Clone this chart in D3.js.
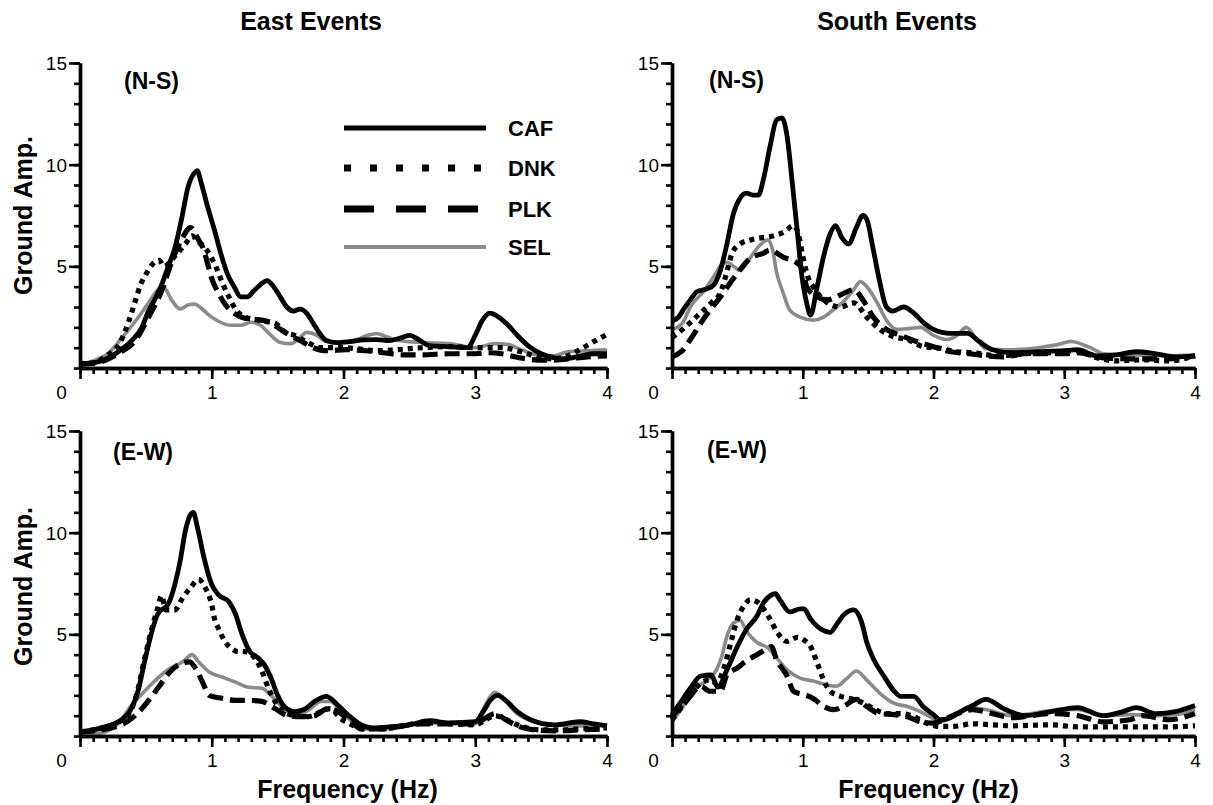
<!DOCTYPE html>
<html>
<head>
<meta charset="utf-8">
<script src="https://cdn.jsdelivr.net/npm/d3@7"></script>
<style>
  body { margin: 0; background: #fff; }
  svg text { font-family: "Liberation Sans", Arial, Helvetica, sans-serif; fill: #000; }
</style>
</head>
<body>
<svg id="fig" width="1213" height="805"></svg>
<script>
// ---- data: ground amplification spectra, [frequency (Hz), amplification] ----
const stations = ["CAF", "DNK", "PLK", "SEL"];
const groupTitles = ["East Events", "South Events"];
const componentLabels = ["(N-S)", "(E-W)"];
const xTickValues = [0, 1, 2, 3, 4];
const yTickValues = [0, 5, 10, 15];

// East events, N-S component
const eastNS_CAF = [[0,0.2],[0.1,0.25],[0.2,0.45],[0.3,0.85],[0.4,1.4],[0.47,2.0],[0.52,2.8],[0.57,3.4],[0.62,4.1],[0.67,5.0],[0.72,5.9],[0.77,7.3],[0.82,8.9],[0.87,9.6],[0.89,9.7],[0.92,9.1],[0.97,7.9],[1.02,6.8],[1.07,5.6],[1.12,4.6],[1.17,4.0],[1.22,3.5],[1.27,3.5],[1.32,3.8],[1.37,4.1],[1.42,4.3],[1.47,4.0],[1.52,3.5],[1.57,3.0],[1.62,2.8],[1.67,2.9],[1.72,2.7],[1.77,2.2],[1.82,1.7],[1.87,1.35],[1.95,1.25],[2.05,1.3],[2.15,1.38],[2.25,1.4],[2.35,1.35],[2.42,1.45],[2.5,1.6],[2.57,1.4],[2.65,1.1],[2.8,1.05],[2.94,1.0],[3.0,1.6],[3.05,2.3],[3.11,2.7],[3.18,2.5],[3.25,2.1],[3.32,1.6],[3.4,1.1],[3.5,0.7],[3.6,0.5],[3.68,0.45],[3.8,0.6],[3.9,0.7],[4.0,0.7]];
const eastNS_DNK = [[0,0.2],[0.1,0.25],[0.2,0.6],[0.3,1.2],[0.37,2.3],[0.42,3.3],[0.46,4.1],[0.5,4.6],[0.55,5.1],[0.6,5.3],[0.64,5.0],[0.68,5.2],[0.72,5.5],[0.8,6.1],[0.85,6.5],[0.9,6.2],[0.95,5.9],[1.0,5.4],[1.03,5.0],[1.08,4.2],[1.13,3.5],[1.18,2.9],[1.25,2.5],[1.32,2.4],[1.4,2.3],[1.48,2.2],[1.56,1.75],[1.63,1.6],[1.73,1.25],[1.83,1.0],[1.98,1.0],[2.1,0.95],[2.24,0.85],[2.4,0.9],[2.6,1.0],[2.8,1.05],[3.0,1.0],[3.2,1.0],[3.35,0.8],[3.5,0.5],[3.6,0.45],[3.7,0.6],[3.82,1.0],[3.9,1.3],[4.0,1.65]];
const eastNS_PLK = [[0,0.2],[0.1,0.22],[0.2,0.4],[0.3,0.75],[0.42,1.35],[0.52,2.5],[0.62,3.8],[0.7,5.3],[0.77,6.3],[0.84,6.9],[0.9,6.3],[0.94,5.8],[0.97,5.1],[1.0,4.4],[1.05,3.7],[1.1,3.15],[1.18,2.65],[1.25,2.45],[1.32,2.4],[1.42,2.3],[1.5,2.0],[1.57,1.7],[1.67,1.35],[1.77,1.0],[1.87,0.85],[2.02,0.9],[2.17,0.85],[2.3,0.75],[2.45,0.65],[2.6,0.65],[2.8,0.7],[3.0,0.7],[3.1,0.75],[3.2,0.7],[3.3,0.55],[3.45,0.4],[3.55,0.38],[3.7,0.45],[3.85,0.55],[4.0,0.6]];
const eastNS_SEL = [[0,0.2],[0.1,0.35],[0.21,0.7],[0.32,1.5],[0.42,2.3],[0.52,3.2],[0.6,3.9],[0.63,4.0],[0.7,3.3],[0.76,2.9],[0.82,3.1],[0.87,3.15],[0.91,3.0],[0.97,2.65],[1.05,2.3],[1.15,2.1],[1.22,2.1],[1.3,2.25],[1.37,2.1],[1.45,1.6],[1.52,1.26],[1.6,1.2],[1.67,1.5],[1.72,1.75],[1.8,1.6],[1.87,1.3],[1.98,1.25],[2.1,1.4],[2.18,1.6],[2.25,1.7],[2.32,1.55],[2.42,1.35],[2.6,1.25],[2.8,1.2],[3.0,1.0],[3.15,1.2],[3.25,1.15],[3.35,0.9],[3.5,0.6],[3.6,0.6],[3.7,0.8],[3.85,0.85],[4.0,0.9]];

// South events, N-S component
const southNS_CAF = [[0,2.3],[0.05,2.5],[0.09,2.9],[0.14,3.35],[0.19,3.75],[0.27,3.9],[0.32,4.1],[0.37,4.8],[0.42,6.1],[0.47,7.6],[0.52,8.35],[0.57,8.6],[0.62,8.5],[0.66,8.5],[0.7,9.3],[0.75,10.9],[0.8,12.2],[0.84,12.3],[0.88,11.4],[0.92,9.1],[0.96,6.6],[0.99,4.7],[1.03,3.2],[1.06,2.6],[1.11,4.0],[1.16,5.5],[1.21,6.6],[1.25,7.0],[1.3,6.4],[1.35,6.1],[1.41,6.9],[1.46,7.5],[1.49,7.3],[1.54,5.8],[1.59,4.2],[1.64,3.0],[1.69,2.8],[1.77,3.0],[1.85,2.7],[1.93,2.2],[2.0,1.9],[2.13,1.7],[2.26,1.7],[2.35,1.3],[2.45,0.9],[2.6,0.75],[2.8,0.8],[3.0,0.85],[3.1,0.9],[3.25,0.6],[3.4,0.65],[3.55,0.8],[3.7,0.7],[3.85,0.55],[4.0,0.6]];
const southNS_DNK = [[0,1.5],[0.1,2.0],[0.2,2.6],[0.3,3.2],[0.37,3.7],[0.41,4.5],[0.46,5.65],[0.52,6.1],[0.6,6.3],[0.68,6.4],[0.78,6.5],[0.86,6.7],[0.93,7.0],[0.97,6.5],[1.0,5.5],[1.05,4.3],[1.08,4.0],[1.16,3.35],[1.29,3.0],[1.39,3.2],[1.49,2.5],[1.59,1.9],[1.69,1.55],[1.8,1.4],[1.92,1.05],[2.05,0.97],[2.18,0.8],[2.3,0.75],[2.5,0.6],[2.7,0.7],[2.9,0.75],[3.1,0.85],[3.25,0.5],[3.4,0.35],[3.6,0.4],[3.8,0.35],[4.0,0.6]];
const southNS_PLK = [[0,0.55],[0.07,0.8],[0.14,1.4],[0.24,2.4],[0.37,3.5],[0.5,4.66],[0.6,5.4],[0.7,5.65],[0.75,5.8],[0.85,5.45],[0.96,5.15],[1.0,4.8],[1.03,4.0],[1.11,3.5],[1.19,3.35],[1.29,3.6],[1.39,3.85],[1.46,3.35],[1.54,2.5],[1.64,1.9],[1.75,1.6],[1.87,1.3],[2.0,1.05],[2.13,0.8],[2.26,0.72],[2.4,0.6],[2.55,0.55],[2.7,0.7],[3.0,0.7],[3.1,0.75],[3.3,0.5],[3.5,0.45],[3.8,0.45],[4.0,0.6]];
const southNS_SEL = [[0,1.9],[0.08,2.2],[0.14,3.0],[0.24,3.75],[0.32,4.5],[0.38,5.1],[0.42,5.2],[0.47,5.0],[0.52,4.8],[0.57,5.15],[0.64,5.8],[0.7,6.2],[0.73,6.3],[0.77,5.8],[0.8,4.7],[0.85,3.7],[0.9,2.85],[0.98,2.5],[1.08,2.35],[1.16,2.5],[1.24,2.9],[1.31,3.25],[1.39,3.85],[1.44,4.25],[1.49,4.0],[1.57,3.2],[1.64,2.35],[1.72,1.9],[1.82,1.95],[1.9,2.0],[2.0,1.6],[2.1,1.4],[2.18,1.6],[2.25,2.0],[2.32,1.5],[2.4,0.95],[2.57,0.9],[2.8,1.0],[2.95,1.15],[3.05,1.3],[3.2,1.0],[3.3,0.7],[3.5,0.65],[3.8,0.6],[4.0,0.65]];

// East events, E-W component
const eastEW_CAF = [[0,0.2],[0.1,0.3],[0.19,0.45],[0.29,0.7],[0.39,1.35],[0.44,2.2],[0.49,3.65],[0.54,5.0],[0.59,6.0],[0.67,6.5],[0.72,7.45],[0.76,8.6],[0.8,10.1],[0.84,10.9],[0.86,11.0],[0.89,10.3],[0.94,8.8],[1.0,7.45],[1.05,6.95],[1.13,6.6],[1.18,6.0],[1.23,5.0],[1.29,4.15],[1.34,3.9],[1.4,3.5],[1.45,2.85],[1.5,2.0],[1.55,1.45],[1.63,1.2],[1.7,1.3],[1.78,1.7],[1.87,1.95],[1.96,1.5],[2.04,1.0],[2.14,0.53],[2.22,0.4],[2.35,0.45],[2.5,0.55],[2.65,0.75],[2.8,0.65],[3.0,0.7],[3.06,1.2],[3.12,1.8],[3.17,2.0],[3.24,1.7],[3.32,1.2],[3.42,0.8],[3.6,0.55],[3.79,0.7],[3.9,0.6],[4.0,0.5]];
const eastEW_DNK = [[0,0.2],[0.1,0.3],[0.2,0.45],[0.3,0.7],[0.39,1.3],[0.44,2.3],[0.49,3.8],[0.54,5.15],[0.59,6.3],[0.62,6.9],[0.65,6.2],[0.72,6.2],[0.78,6.8],[0.84,7.3],[0.9,7.7],[0.95,7.3],[1.0,6.45],[1.02,5.8],[1.05,5.3],[1.1,4.65],[1.15,4.3],[1.2,4.15],[1.25,4.15],[1.33,3.8],[1.38,3.2],[1.43,2.35],[1.48,1.7],[1.53,1.27],[1.63,1.0],[1.73,0.95],[1.83,1.2],[1.9,1.35],[1.98,0.85],[2.05,0.6],[2.14,0.35],[2.3,0.35],[2.45,0.5],[2.6,0.65],[2.8,0.6],[3.0,0.55],[3.08,0.8],[3.15,1.0],[3.22,0.85],[3.3,0.6],[3.5,0.3],[3.65,0.3],[3.8,0.35],[4.0,0.4]];
const eastEW_PLK = [[0,0.2],[0.1,0.25],[0.2,0.35],[0.29,0.5],[0.39,0.85],[0.49,1.5],[0.59,2.35],[0.69,3.2],[0.78,3.6],[0.83,3.65],[0.88,3.3],[0.93,2.65],[0.98,2.0],[1.08,1.85],[1.18,1.75],[1.28,1.75],[1.38,1.7],[1.48,1.35],[1.58,1.0],[1.68,0.95],[1.78,1.0],[1.88,1.35],[1.96,1.2],[2.04,0.8],[2.14,0.35],[2.3,0.35],[2.45,0.5],[2.6,0.6],[2.8,0.6],[3.0,0.6],[3.08,0.9],[3.15,1.1],[3.22,0.85],[3.3,0.55],[3.45,0.3],[3.6,0.25],[3.8,0.3],[4.0,0.35]];
const eastEW_SEL = [[0,0.05],[0.1,0.1],[0.19,0.2],[0.29,0.6],[0.39,1.5],[0.49,2.2],[0.59,2.85],[0.69,3.35],[0.78,3.65],[0.85,4.0],[0.9,3.65],[0.98,3.15],[1.08,2.9],[1.18,2.65],[1.28,2.4],[1.38,2.35],[1.45,2.0],[1.53,1.45],[1.63,1.0],[1.73,1.25],[1.83,1.7],[1.9,1.7],[1.98,1.25],[2.05,0.8],[2.15,0.35],[2.3,0.4],[2.45,0.5],[2.6,0.65],[2.8,0.6],[3.0,0.6],[3.06,1.3],[3.11,1.9],[3.15,2.15],[3.22,1.8],[3.3,1.2],[3.4,0.8],[3.5,0.6],[3.8,0.5],[4.0,0.55]];

// South events, E-W component
const southEW_CAF = [[0,1.05],[0.06,1.6],[0.14,2.35],[0.22,2.95],[0.3,3.0],[0.35,2.4],[0.42,3.25],[0.5,4.4],[0.57,5.25],[0.65,5.9],[0.7,6.55],[0.75,6.9],[0.79,7.0],[0.83,6.65],[0.9,6.1],[0.98,6.25],[1.01,6.25],[1.06,5.75],[1.14,5.25],[1.21,5.1],[1.26,5.5],[1.32,6.0],[1.39,6.2],[1.45,5.6],[1.49,4.6],[1.54,3.8],[1.62,2.95],[1.7,2.2],[1.75,1.95],[1.85,1.95],[1.92,1.45],[2.0,1.05],[2.05,0.8],[2.13,0.9],[2.21,1.2],[2.3,1.5],[2.4,1.8],[2.55,1.3],[2.7,1.0],[2.9,1.2],[3.1,1.4],[3.3,1.0],[3.45,1.2],[3.55,1.4],[3.7,1.1],[3.85,1.2],[4.0,1.5]];
const southEW_DNK = [[0,0.8],[0.12,1.8],[0.22,2.6],[0.29,2.75],[0.34,2.6],[0.4,3.4],[0.45,4.6],[0.5,5.75],[0.55,6.4],[0.6,6.7],[0.65,6.6],[0.7,6.25],[0.75,5.75],[0.8,5.15],[0.88,4.65],[0.96,4.85],[1.0,4.75],[1.06,4.4],[1.11,3.6],[1.16,2.75],[1.21,2.2],[1.29,1.95],[1.39,1.8],[1.47,1.6],[1.54,1.35],[1.65,1.1],[1.75,1.1],[1.85,0.95],[1.95,0.63],[2.05,0.47],[2.15,0.47],[2.3,0.6],[2.45,0.55],[2.6,0.5],[2.9,0.55],[3.1,0.45],[3.3,0.45],[3.6,0.45],[3.8,0.45],[4.0,0.5]];
const southEW_PLK = [[0,0.95],[0.12,1.8],[0.22,2.45],[0.29,2.2],[0.37,2.2],[0.42,3.0],[0.5,3.35],[0.57,3.7],[0.65,4.0],[0.73,4.3],[0.76,4.4],[0.8,3.75],[0.88,2.95],[0.93,2.2],[1.0,2.05],[1.08,1.85],[1.16,1.45],[1.24,1.3],[1.31,1.45],[1.41,1.8],[1.49,1.45],[1.59,1.1],[1.7,1.05],[1.8,0.95],[1.9,0.7],[2.0,0.63],[2.08,0.8],[2.18,1.1],[2.3,1.3],[2.45,1.1],[2.6,0.9],[2.9,1.1],[3.1,1.0],[3.3,0.7],[3.5,0.8],[3.6,1.0],[3.8,0.8],[4.0,1.1]];
const southEW_SEL = [[0,0.7],[0.1,1.6],[0.17,2.3],[0.27,2.75],[0.34,3.25],[0.38,3.9],[0.42,4.9],[0.47,5.55],[0.52,5.7],[0.57,5.15],[0.65,4.6],[0.73,4.35],[0.8,3.85],[0.88,3.25],[0.98,2.85],[1.08,2.7],[1.19,2.5],[1.26,2.45],[1.34,2.85],[1.41,3.2],[1.49,2.75],[1.59,2.1],[1.7,1.6],[1.8,1.45],[1.9,1.2],[2.0,0.85],[2.05,0.7],[2.15,0.95],[2.26,1.4],[2.4,1.3],[2.6,1.0],[2.9,1.25],[3.1,1.3],[3.3,1.0],[3.5,1.05],[3.7,1.0],[3.9,1.1],[4.0,1.3]];

// ---- layout and styling ----
const svg = d3.select("#fig");
const FONT = '"Liberation Sans", Arial, Helvetica, sans-serif';

const lineStyle = {
  CAF: { stroke: "#000", width: 4.8, dash: null },
  DNK: { stroke: "#000", width: 5.2, dash: "5,5" },
  PLK: { stroke: "#000", width: 5.2, dash: "15,7" },
  SEL: { stroke: "#8a8a8a", width: 3.6, dash: null }
};
const legendDash = { CAF: null, DNK: "7,19", PLK: "30,22", SEL: null };
const legendWidth = { CAF: 5, DNK: 7, PLK: 7, SEL: 4 };

const panels = [
  { series: [eastNS_CAF, eastNS_DNK, eastNS_PLK, eastNS_SEL], left: 80, right: 607, bottom: 368, top: 63,
    label: componentLabels[0], labelX: 124, labelY: 89, yTitle: true, legend: true },
  { series: [southNS_CAF, southNS_DNK, southNS_PLK, southNS_SEL], left: 672, right: 1195, bottom: 368, top: 63,
    label: componentLabels[0], labelX: 709, labelY: 88, yTitle: false, legend: false },
  { series: [eastEW_CAF, eastEW_DNK, eastEW_PLK, eastEW_SEL], left: 80, right: 607, bottom: 736, top: 431,
    label: componentLabels[1], labelX: 113, labelY: 460, yTitle: true, legend: false, xTitle: true },
  { series: [southEW_CAF, southEW_DNK, southEW_PLK, southEW_SEL], left: 672, right: 1195, bottom: 736, top: 431,
    label: componentLabels[1], labelX: 707, labelY: 458, yTitle: false, legend: false, xTitle: true }
];

// column titles
svg.append("text").attr("x", 311).attr("y", 30).attr("text-anchor", "middle")
  .attr("font-size", 25).attr("font-weight", "bold").attr("font-family", FONT).text(groupTitles[0]);
svg.append("text").attr("x", 897).attr("y", 30).attr("text-anchor", "middle")
  .attr("font-size", 25).attr("font-weight", "bold").attr("font-family", FONT).text(groupTitles[1]);

panels.forEach(p => {
  const x = d3.scaleLinear().domain([0, 4]).range([p.left, p.right]);
  const y = d3.scaleLinear().domain([0, 15]).range([p.bottom, p.top]);
  const g = svg.append("g");

  // curves, gray trace underneath the black ones
  const line = d3.line().x(d => x(d[0])).y(d => y(d[1])).curve(d3.curveMonotoneX);
  [3, 2, 1, 0].forEach(i => {
    const st = lineStyle[stations[i]];
    g.append("path").datum(p.series[i])
      .attr("d", line)
      .attr("fill", "none")
      .attr("stroke", st.stroke)
      .attr("stroke-width", st.width)
      .attr("stroke-dasharray", st.dash)
      .attr("stroke-linejoin", "round");
  });

  // x axis: minor ticks every 0.1 Hz, major ticks at integers
  const xMinor = g.append("g").attr("transform", `translate(0,${p.bottom})`)
    .call(d3.axisBottom(x).tickValues(d3.range(0, 41).map(k => k / 10)).tickSize(6).tickSizeOuter(0).tickFormat(""));
  const xMajor = g.append("g").attr("transform", `translate(0,${p.bottom})`)
    .call(d3.axisBottom(x).tickValues(xTickValues).tickSize(11).tickSizeOuter(0).tickPadding(7).tickFormat(d3.format("d")));
  // y axis: minor ticks every unit, major ticks every 5
  const yMinor = g.append("g").attr("transform", `translate(${p.left},0)`)
    .call(d3.axisLeft(y).tickValues(d3.range(0, 16)).tickSize(6).tickSizeOuter(0).tickFormat(""));
  const yMajor = g.append("g").attr("transform", `translate(${p.left},0)`)
    .call(d3.axisLeft(y).tickValues(yTickValues.filter(v => v > 0)).tickSize(11).tickSizeOuter(0).tickPadding(2).tickFormat(d3.format("d")));

  [xMinor, xMajor, yMinor, yMajor].forEach(a => {
    a.select(".domain").attr("stroke", "#000").attr("stroke-width", 3.4);
    a.selectAll(".tick line").attr("stroke", "#000").attr("stroke-width", 2.6);
    a.selectAll("text").attr("font-family", FONT).attr("font-size", 19).attr("fill", "#000");
  });
  // the origin label sits left of the vertical axis
  xMajor.selectAll(".tick text").filter(d => d === 0).attr("dx", -19);
  yMajor.selectAll(".tick text").attr("dy", "0.35em");

  // component label
  g.append("text").attr("x", p.labelX).attr("y", p.labelY)
    .attr("font-size", 23).attr("font-weight", "bold").attr("font-family", FONT).text(p.label);

  if (p.yTitle) {
    const cy = (p.top + p.bottom) / 2 + (p.top === 63 ? 0 : 3);
    g.append("text").attr("transform", `translate(32,${cy}) rotate(-90)`)
      .attr("text-anchor", "middle").attr("font-size", 25).attr("font-weight", "bold")
      .attr("font-family", FONT).text("Ground Amp.");
  }
  if (p.xTitle) {
    g.append("text").attr("x", (p.left + p.right) / 2 + (p.left < 300 ? 4 : -5)).attr("y", 798)
      .attr("text-anchor", "middle").attr("font-size", 25).attr("font-weight", "bold")
      .attr("font-family", FONT).text("Frequency (Hz)");
  }

  if (p.legend) {
    const rows = [128, 168, 209, 247];
    stations.forEach((s, i) => {
      const st = lineStyle[s];
      g.append("line").attr("x1", 344).attr("x2", 486).attr("y1", rows[i]).attr("y2", rows[i])
        .attr("stroke", st.stroke).attr("stroke-width", legendWidth[s])
        .attr("stroke-dasharray", legendDash[s]);
      g.append("text").attr("x", 508).attr("y", rows[i] + 8)
        .attr("font-size", 22).attr("font-weight", "bold").attr("font-family", FONT).text(s);
    });
  }
});
</script>
</body>
</html>
